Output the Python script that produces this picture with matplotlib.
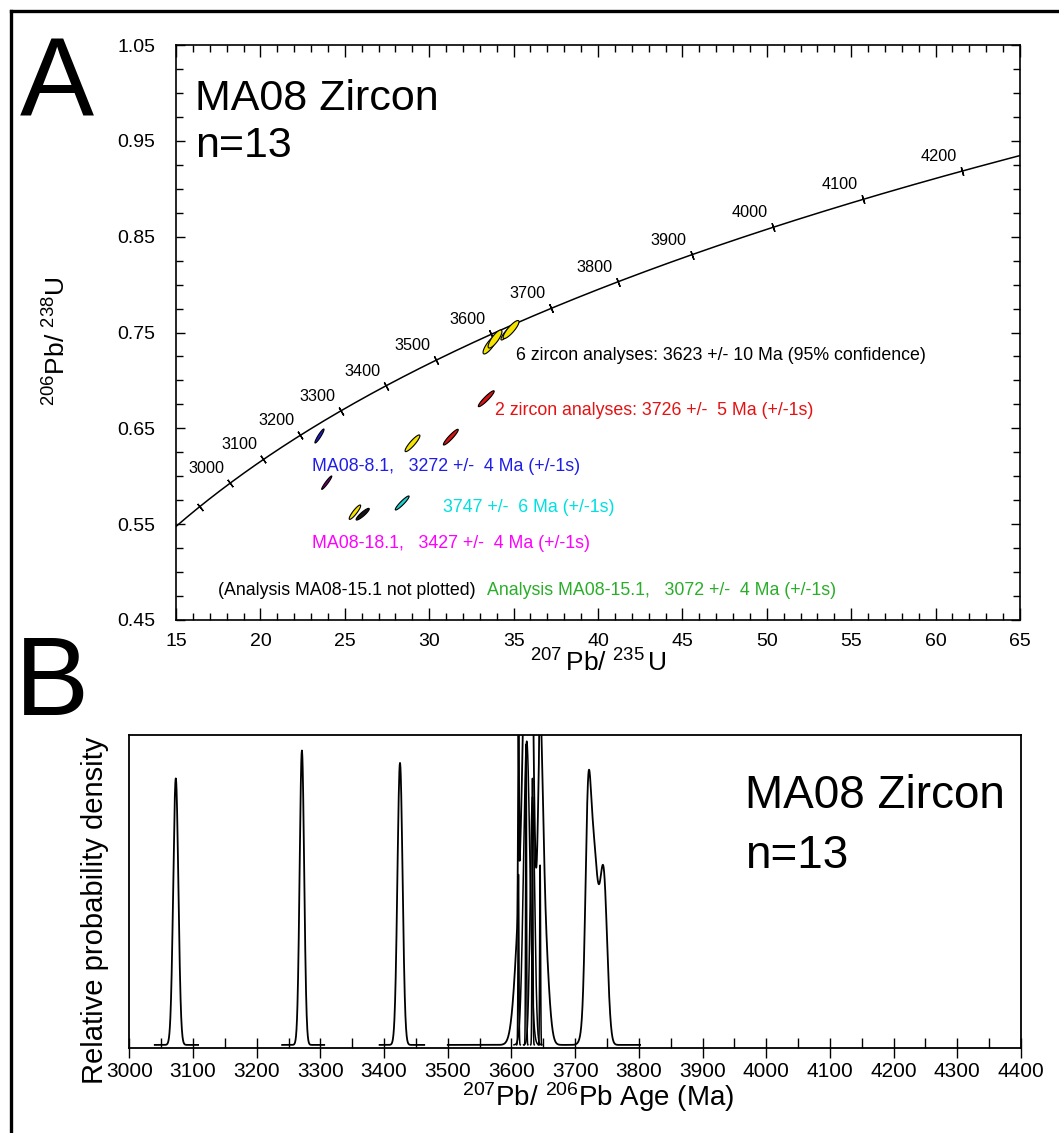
from __future__ import annotations

import matplotlib

matplotlib.use("Agg")
import matplotlib.pyplot as plt
import numpy as np
from matplotlib.lines import Line2D
from matplotlib.patches import Polygon
from matplotlib.ticker import MultipleLocator


FIG_W, FIG_H, DPI = 1059, 1133, 100

# decay constants, 1/Ma
LAMBDA_235 = 9.8485e-4
LAMBDA_238 = 1.55125e-4

# ---- Panel A: concordia diagram -------------------------------------------
concordia_marks = [2900, 3000, 3100, 3200, 3300, 3400, 3500, 3600, 3700,
                   3800, 3900, 4000, 4100, 4200]
labelled_marks = [3000, 3100, 3200, 3300, 3400, 3500, 3600, 3700,
                  3800, 3900, 4000, 4100, 4200]

# analyses: 207Pb/235U, 206Pb/238U, error half-widths and error correlation
ell_group = ["8.1", "18.1", "main", "red", "red", "main", "black", "cyan",
             "main", "main", "main", "main"]
ell_x = [23.50, 23.93, 29.01, 31.28, 33.38, 25.60, 26.06, 28.40,
         33.60, 33.90, 34.61, 34.85]
ell_y = [0.6420, 0.5933, 0.6344, 0.6408, 0.6809, 0.5625, 0.5604, 0.5721,
         0.7370, 0.7432, 0.7495, 0.7531]
ell_ex = [0.27, 0.30, 0.44, 0.44, 0.47, 0.34, 0.39, 0.41, 0.41, 0.41, 0.36, 0.47]
ell_ey = [0.0073, 0.0070, 0.0087, 0.0082, 0.0083, 0.0075, 0.0061, 0.0073,
          0.0094, 0.0094, 0.0073, 0.0094]
ell_rho = [0.93, 0.95, 0.90, 0.93, 0.93, 0.90, 0.90, 0.93, 0.82, 0.82, 0.88, 0.86]

note_texts = [
    "6 zircon analyses: 3623 +/- 10 Ma (95% confidence)",
    "2 zircon analyses: 3726 +/-  5 Ma (+/-1s)",
    "MA08-8.1,   3272 +/-  4 Ma (+/-1s)",
    "3747 +/-  6 Ma (+/-1s)",
    "MA08-18.1,   3427 +/-  4 Ma (+/-1s)",
    "(Analysis MA08-15.1 not plotted)",
    "Analysis MA08-15.1,   3072 +/-  4 Ma (+/-1s)",
]

# ---- Panel B: relative probability density ---------------------------------
pdf_ages = [3073, 3271, 3425, 3611, 3617, 3623, 3624, 3633, 3633, 3645, 3645,
            3650, 3720, 3728, 3745]
pdf_sigmas = [4.0, 3.5, 4.0, 0.7, 9.0, 0.7, 5.0, 0.7, 3.5, 0.7, 4.0,
              7.0, 4.0, 8.0, 5.5]
pdf_heights = [0.86, 0.95, 0.91, 0.55, 0.55, 0.97, 0.98, 0.86, 0.80, 0.58, 0.70,
               0.42, 0.45, 0.65, 0.50]
pdf_single = [False, False, False, True, False, True, True, True, True, True, False,
              False, False, False, False]
pdf_window_lo = [3040, 3240, 3393, 3500]
pdf_window_hi = [3108, 3306, 3463, 3802]


def setup_plot_style() -> None:
    plt.rcParams.update(
        {
            "font.family": ["Liberation Sans", "DejaVu Sans"],
            "mathtext.fontset": "custom",
            "mathtext.rm": "Liberation Sans",
            "mathtext.it": "Liberation Sans",
            "mathtext.default": "regular",
            "axes.linewidth": 1.2,
        }
    )


def ellipse_outline(cx, cy, ex, ey, rho, n=120):
    t = np.linspace(0, 2 * np.pi, n)
    x = cx + ex * np.cos(t)
    y = cy + ey * (rho * np.cos(t) + np.sqrt(1 - rho ** 2) * np.sin(t))
    return np.column_stack([x, y])


def plot_concordia(fig) -> None:
    ax = fig.add_axes([176 / FIG_W, 1 - 620 / FIG_H, 844 / FIG_W, 575 / FIG_H])
    ax.set_xlim(15, 65)
    ax.set_ylim(0.45, 1.05)
    ax.xaxis.set_major_locator(MultipleLocator(5))
    ax.xaxis.set_minor_locator(MultipleLocator(1))
    ax.yaxis.set_minor_locator(MultipleLocator(0.025))
    ax.set_yticks(np.arange(0.45, 1.06, 0.1))
    ax.set_yticklabels([f"{v:.2f}" for v in np.arange(0.45, 1.06, 0.1)])
    ax.tick_params(which="both", direction="in", top=True, right=True, width=1.0)
    ax.tick_params(axis="x", which="major", length=8.5, labelsize=14, pad=9)
    ax.tick_params(axis="y", which="major", length=6.5, labelsize=14, pad=15)
    ax.tick_params(which="minor", length=5)

    # concordia curve across the visible range
    t = np.linspace(np.log1p(15) / LAMBDA_235, np.log1p(65) / LAMBDA_235, 600)
    ax.plot(np.expm1(LAMBDA_235 * t), np.expm1(LAMBDA_238 * t), color="black", lw=1.1, zorder=2)

    # age marks drawn perpendicular to the curve (angle taken in pixel space)
    px_x = 844 / 50
    px_y = 575 / 0.6
    for age in concordia_marks:
        x = np.expm1(LAMBDA_235 * age)
        y = np.expm1(LAMBDA_238 * age)
        dx = LAMBDA_235 * np.exp(LAMBDA_235 * age) * px_x
        dy = LAMBDA_238 * np.exp(LAMBDA_238 * age) * px_y
        ang = np.degrees(np.arctan2(dy, dx))
        ax.plot(x, y, ls="none", marker=(2, 2, ang), ms=6.5, mec="black", mew=1.0, zorder=2)
        if age in labelled_marks:
            ax.annotate(str(age), (x, y), xytext=(-17, 10.5), textcoords="offset points",
                        ha="center", va="center", fontsize=11.7)

    fills = {"8.1": "#1c1cd0", "18.1": "#6e006e", "main": "#f4e400",
             "red": "#d21414", "black": "#141414", "cyan": "#1ad2d2"}
    for g, cx, cy, ex, ey, r in zip(ell_group, ell_x, ell_y, ell_ex, ell_ey, ell_rho):
        ax.add_patch(Polygon(ellipse_outline(cx, cy, ex, ey, r), closed=True,
                             facecolor=fills[g], edgecolor="black", lw=0.8, zorder=3))

    note_pos = [(35.14, 0.7255), (33.90, 0.6691), (23.06, 0.6097), (30.82, 0.5679),
                (23.06, 0.5303), (17.49, 0.4813), (33.42, 0.4813)]
    note_cols = ["black", "#e41212", "#1e1ee8", "#00e0e0", "#ff00ff", "black", "#2aae2a"]
    for txt, (x, y), c in zip(note_texts, note_pos, note_cols):
        ax.text(x, y, txt, color=c, fontsize=12.8, ha="left", va="center")

    ax.text(0.0225, 0.887, "MA08 Zircon", transform=ax.transAxes, fontsize=31, va="baseline")
    ax.text(0.0225, 0.805, "n=13", transform=ax.transAxes, fontsize=31, va="baseline")

    fig.text(598 / FIG_W, 1 - 663 / FIG_H, r"$^{207}\,Pb/\ ^{235}\,U$", ha="center", va="center", fontsize=19)
    fig.text(57 / FIG_W, 1 - 341 / FIG_H, r"$^{206}Pb/\ ^{238}U$", ha="center", va="center",
             fontsize=19, rotation=90)


def gaussian_sum(grid, idx):
    out = np.zeros_like(grid)
    for i in idx:
        out += pdf_heights[i] * np.exp(-0.5 * ((grid - pdf_ages[i]) / pdf_sigmas[i]) ** 2)
    return out


def plot_density(fig) -> None:
    ax = fig.add_axes([129.3 / FIG_W, 1 - 1047.7 / FIG_H, 891.7 / FIG_W, 312.7 / FIG_H])
    ax.set_xlim(3000, 4400)
    ax.set_ylim(-0.009, 1.0)
    ax.xaxis.set_major_locator(MultipleLocator(100))
    ax.xaxis.set_minor_locator(MultipleLocator(50))
    ax.set_yticks([])
    ax.tick_params(axis="x", which="major", direction="inout", length=15, width=1.0,
                   labelsize=15, pad=3)
    ax.tick_params(axis="x", which="minor", direction="in", length=7, width=1.0)
    for s in ax.spines.values():
        s.set_linewidth(1.3)

    # summed curve, drawn over the age windows that the data cover
    all_idx = range(len(pdf_ages))
    for lo, hi in zip(pdf_window_lo, pdf_window_hi):
        grid = np.arange(lo, hi + 0.01, 0.25)
        ax.plot(grid, gaussian_sum(grid, all_idx), color="black", lw=1.3)

    # single-analysis curves inside the main 3623 Ma group
    for i, show in enumerate(pdf_single):
        if not show:
            continue
        grid = np.arange(pdf_ages[i] - 4 * pdf_sigmas[i], pdf_ages[i] + 4 * pdf_sigmas[i], 0.1)
        ax.plot(grid, gaussian_sum(grid, [i]), color="black", lw=1.1)

    ax.text(0.690, 0.767, "MA08 Zircon", transform=ax.transAxes, fontsize=33, va="baseline")
    ax.text(0.690, 0.575, "n=13", transform=ax.transAxes, fontsize=33, va="baseline")

    fig.text(598 / FIG_W, 1 - 1097 / FIG_H, r"$^{207}Pb/\ ^{206}Pb\ Age\ (Ma)$",
             ha="center", va="center", fontsize=20)
    fig.text(95 / FIG_W, 1 - 910 / FIG_H, "Relative probability density", ha="center",
             va="center", fontsize=21, rotation=90)


def main() -> None:
    setup_plot_style()
    fig = plt.figure(figsize=(FIG_W / DPI, FIG_H / DPI), dpi=DPI)

    # outer frame (only top and left edges fall inside the picture)
    fig.add_artist(Line2D([11 / FIG_W, 1.0], [1 - 11 / FIG_H, 1 - 11 / FIG_H],
                          transform=fig.transFigure, color="black", lw=2.4))
    fig.add_artist(Line2D([11 / FIG_W, 11 / FIG_W], [0.0, 1 - 11 / FIG_H],
                          transform=fig.transFigure, color="black", lw=2.4))

    plot_concordia(fig)
    plot_density(fig)

    fig.text(20 / FIG_W, 1 - 115 / FIG_H, "A", fontsize=80, va="baseline")
    fig.text(15 / FIG_W, 1 - 715 / FIG_H, "B", fontsize=80, va="baseline")

    fig.savefig("out.png", dpi=DPI)
    plt.close(fig)


if __name__ == "__main__":
    main()
